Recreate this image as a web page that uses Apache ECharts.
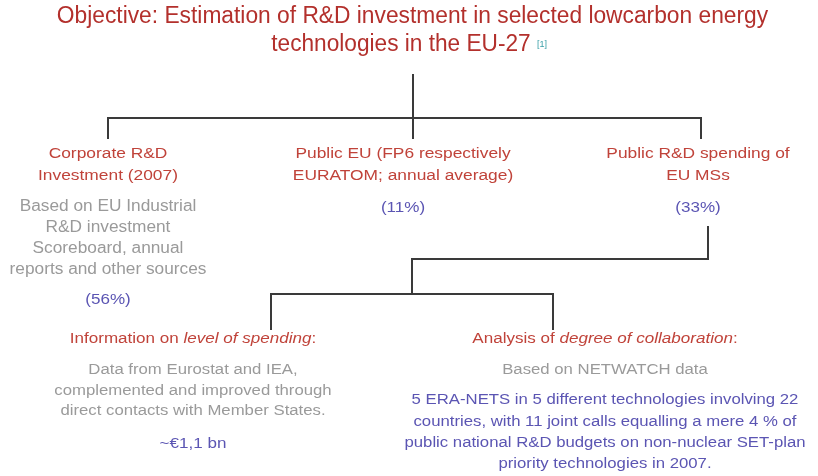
<!DOCTYPE html>
<html>
<head>
<meta charset="utf-8">
<script src="https://cdn.jsdelivr.net/npm/echarts@6/dist/echarts.min.js"></script>
<style>
html,body{margin:0;padding:0;background:#fff;}
#main{width:818px;height:476px;}
</style>
</head>
<body>
<div id="main"></div>
<script>
// ---- content ----
const titleLines = ['Objective: Estimation of R&D investment in selected lowcarbon energy', 'technologies in the EU-27'];
const titleNote = '[1]';
const branchHeads = [
  ['Corporate R&D', 'Investment (2007)'],
  ['Public EU (FP6 respectively', 'EURATOM; annual average)'],
  ['Public R&D spending of', 'EU MSs']
];
const branchDetails = [
  ['Based on EU Industrial', 'R&D investment', 'Scoreboard, annual', 'reports and other sources'],
  [],
  []
];
const branchShares = [56, 11, 33]; // percent of total
const analysisHeads = [
  ['Information on ', 'level of spending', ':'],
  ['Analysis of ', 'degree of collaboration', ':']
];
const analysisDetails = [
  ['Data from Eurostat and IEA,', 'complemented and improved through', 'direct contacts with Member States.'],
  ['Based on NETWATCH data']
];
const analysisResults = [
  ['~€1,1 bn'],
  ['5 ERA-NETS in 5 different technologies involving 22', 'countries, with 11 joint calls equalling a mere 4 % of', 'public national R&D budgets on non-nuclear SET-plan', 'priority technologies in 2007.']
];

// ---- layout / style ----
const RED_T = '#b3302c', RED = '#c0433a', GRAY = '#9a9a9a', BLUE = '#5b55b3', LINE = '#3a3a3a';
const FONT = '"Liberation Sans", Arial, sans-serif';
const branchX = [108, 403, 698];
const analysisX = [193, 605];
const g = [];

function txt(x, y, text, size, color, sx, extra) {
  const style = Object.assign({
    x: 0, y: 0, text: text, fill: color,
    font: size + 'px ' + FONT,
    textAlign: 'center', textVerticalAlign: 'middle'
  }, extra || {});
  g.push({ type: 'text', x: x, y: y, scaleX: sx, style: style, silent: true });
}
function lines(x0, y0, dy, arr, size, color, sx) {
  arr.forEach((t, i) => txt(x0, y0 + i * dy, t, size, color, sx));
}
function poly(pts) {
  g.push({ type: 'polyline', shape: { points: pts }, style: { stroke: LINE, lineWidth: 2, fill: null }, silent: true });
}

// title
txt(412.5, 17, titleLines[0], 23, RED_T, 0.99);
txt(401, 45, titleLines[1], 23, RED_T, 0.985);
txt(542, 45, titleNote, 9, '#3aa0a8', 1.0);

// connectors
poly([[413, 74], [413, 118]]);
poly([[108, 139], [108, 118], [701, 118], [701, 139]]);
poly([[413, 118], [413, 139]]);
poly([[708, 226], [708, 259], [412, 259], [412, 294]]);
poly([[271, 330], [271, 294], [553, 294], [553, 330]]);

// branches
branchHeads.forEach((h, i) => lines(branchX[i], 154, 22, h, 15.5, RED, 1.12));
branchDetails.forEach((d, i) => lines(branchX[i], 207, 21, d, 16, GRAY, 1.08));
branchShares.forEach((s, i) => {
  const y = branchDetails[i].length ? 300 : 208;
  txt(branchX[i], y, '(' + s + '%)', 15.5, BLUE, 1.1);
});

// analysis heads with italic part
analysisHeads.forEach((h, i) => {
  txt(analysisX[i], 339, '{n|' + h[0] + '}{it|' + h[1] + '}{n|' + h[2] + '}', 15.5, RED, 1.1, {
    rich: {
      n: { font: '15.5px ' + FONT, fill: RED },
      it: { font: 'italic 15.5px ' + FONT, fill: RED }
    }
  });
});
lines(analysisX[0], 370, 20.5, analysisDetails[0], 15.5, GRAY, 1.08);
lines(analysisX[1], 370, 20.5, analysisDetails[1], 15.5, GRAY, 1.08);
lines(analysisX[0], 444, 21, analysisResults[0], 15.5, BLUE, 1.1);
lines(analysisX[1], 400, 21.3, analysisResults[1], 15.5, BLUE, 1.08);

const chart = echarts.init(document.getElementById('main'), null, { renderer: 'canvas' });
chart.setOption({ backgroundColor: '#ffffff', animation: false, graphic: { elements: g } });
</script>
</body>
</html>
